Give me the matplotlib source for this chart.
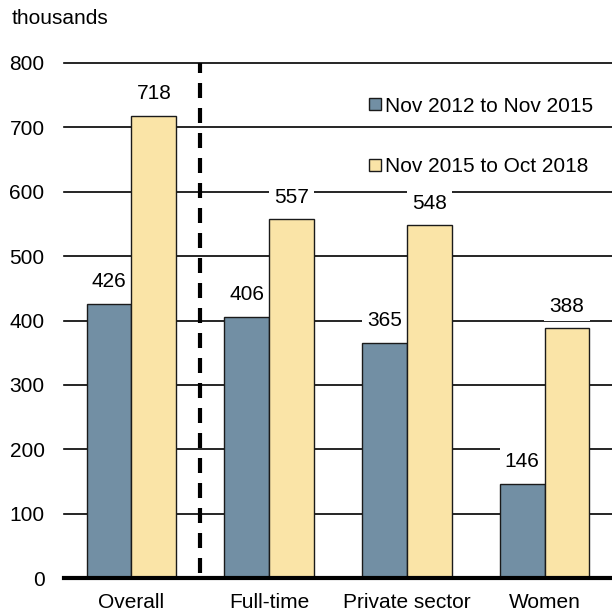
import matplotlib.pyplot as plt
from matplotlib.lines import Line2D
import numpy as np

plt.rcParams['font.family'] = ['Liberation Sans', 'DejaVu Sans']

# --- data ---
categories = ["Overall", "Full-time", "Private sector", "Women"]
series_names = ["Nov 2012 to Nov 2015", "Nov 2015 to Oct 2018"]
vals_2012_2015 = [426, 406, 365, 146]
vals_2015_2018 = [718, 557, 548, 388]
y_ticks = [0, 100, 200, 300, 400, 500, 600, 700, 800]

col_blue = "#728FA4"
col_yellow = "#FAE4A7"
edge = "#1a1a1a"

fig = plt.figure(figsize=(6.12, 6.16), dpi=100)
ax = fig.add_axes([64 / 612, 1 - 578 / 616, 548 / 612, 515 / 616])

x = np.arange(len(categories))
w = 0.325

b1 = ax.bar(x - w / 2, vals_2012_2015, w, color=col_blue, edgecolor=edge, linewidth=1.0, zorder=3)
b2 = ax.bar(x + w / 2, vals_2015_2018, w, color=col_yellow, edgecolor=edge, linewidth=1.0, zorder=3)

# value labels, white boxes cut the gridlines but sit under the bars
for bars, vals in [(b1, vals_2012_2015), (b2, vals_2015_2018)]:
    for r, v in zip(bars, vals):
        ax.annotate(str(v), (r.get_x() + r.get_width() / 2, v),
                    xytext=(0, 16), textcoords="offset points",
                    ha="center", va="center", fontsize=15, zorder=2,
                    bbox=dict(boxstyle="square,pad=0.25", fc="white", ec="none"))

# separator between overall and the rest
ax.axvline(0.5, ymin=0.01, ymax=1, color="black", lw=3, linestyle=(0, (3.6, 2.4)), zorder=4)

ax.set_xlim(-0.49, 3.49)
ax.set_ylim(0, 800)
ax.set_yticks(y_ticks)
ax.set_xticks(x)
ax.set_xticklabels(categories)
ax.tick_params(axis="both", length=0, labelsize=15)
ax.tick_params(axis="y", pad=14)
ax.tick_params(axis="x", pad=11)

ax.yaxis.grid(True, color="black", lw=1.2)
for gl in ax.get_ygridlines():
    gl.set_clip_on(False)
ax.set_axisbelow(True)

for s in ["top", "right", "left"]:
    ax.spines[s].set_visible(False)
ax.spines["bottom"].set_linewidth(3)
ax.spines["bottom"].set_zorder(6)

fig.text(12 / 612, 1 - 18 / 616, "thousands", fontsize=15, ha="left", va="center")

# legend: two separate entries, each on its own white patch
for name, col, ypix in [(series_names[0], col_blue, 106), (series_names[1], col_yellow, 167)]:
    h = Line2D([], [], marker="s", linestyle="none", markersize=8.5,
               markerfacecolor=col, markeredgecolor=edge, markeredgewidth=1.0)
    leg = ax.legend(handles=[h], labels=[name], loc="center left",
                    bbox_to_anchor=(366 / 612, 1 - ypix / 616), bbox_transform=fig.transFigure,
                    frameon=True, framealpha=1, facecolor="white", edgecolor="none",
                    fontsize=15, handlelength=0.6, handletextpad=0.15, borderpad=0.15,
                    borderaxespad=0, fancybox=False)
    leg.set_zorder(7)
    ax.add_artist(leg)

fig.savefig("out.png", dpi=100)
